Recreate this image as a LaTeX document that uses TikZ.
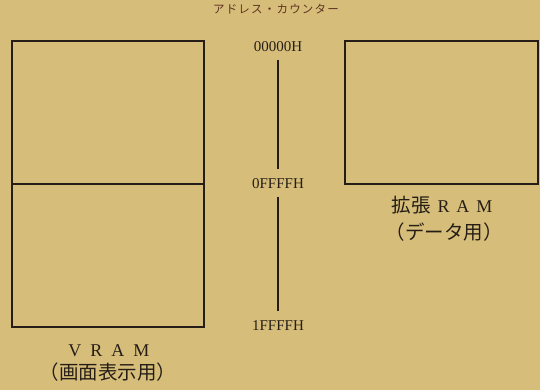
\documentclass[tikz,border=0pt]{standalone}
\usepackage{fontspec}
\setmainfont{Liberation Serif}
\newfontfamily\jpfont{Noto Sans CJK JP}
\usetikzlibrary{positioning}
\definecolor{paper}{RGB}{214,190,122}
\definecolor{ink}{RGB}{38,30,22}
\definecolor{redink}{RGB}{96,50,34}
\newcommand{\gap}{\hspace{1.2pt}}

\begin{document}
\begin{tikzpicture}[
    x=1pt, y=-1pt,
    mem/.style={rectangle, draw=ink, line width=1.4pt, inner sep=0pt},
    addr/.style={font=\fontsize{15}{15}\selectfont, text=ink, inner sep=0pt,
                 text height=11pt, text depth=0pt},
    lbl/.style={font=\fontsize{18}{18}\selectfont, text=ink, inner sep=0pt,
                text height=12pt, text depth=0pt},
    bus/.style={draw=ink, line width=1.1pt, shorten <=8pt, shorten >=8pt}
]
    \fill[paper] (0,0) rectangle (540,390);
    \useasboundingbox (0,0) rectangle (540,390);

    \node[font=\jpfont\fontsize{11.5}{12}\selectfont, text=redink] (title) at (276,9)
        {ア\gap ド\gap レ\gap ス\gap ・\gap カ\gap ウ\gap ン\gap タ\gap ー};

    % VRAM, two halves
    \node[mem, minimum width=192pt, minimum height=143pt] (vramtop) at (108,112.5) {};
    \node[mem, minimum width=192pt, minimum height=143pt] (vrambot) at (108,255.5) {};
    \node[lbl] (vramlbl) at (109,350) {V\hspace{9pt}R\hspace{9pt}A\hspace{9pt}M};
    \node[lbl, font=\jpfont\fontsize{19.5}{20}\selectfont] (vramuse) at (108,373) {（画面表示用）};

    % expansion RAM
    \node[mem, minimum width=193pt, minimum height=143pt] (extram) at (441.5,112.5) {};
    \node[lbl] (extlbl) at (442,206)
        {{\jpfont\fontsize{19.5}{20}\selectfont 拡張}\hspace{7pt}R\hspace{7pt}A\hspace{7pt}M};
    \node[lbl, font=\jpfont\fontsize{19.5}{20}\selectfont] (extuse) at (444,233) {（データ用）};

    % address counter
    \node[addr] (a0) at (278,46)  {00000H};
    \node[addr] (a1) at (278,183) {0FFFFH};
    \node[addr] (a2) at (278,325) {1FFFFH};
    \draw[bus] (a0) -- (a1);
    \draw[bus] (a1) -- (a2);
\end{tikzpicture}
\end{document}
